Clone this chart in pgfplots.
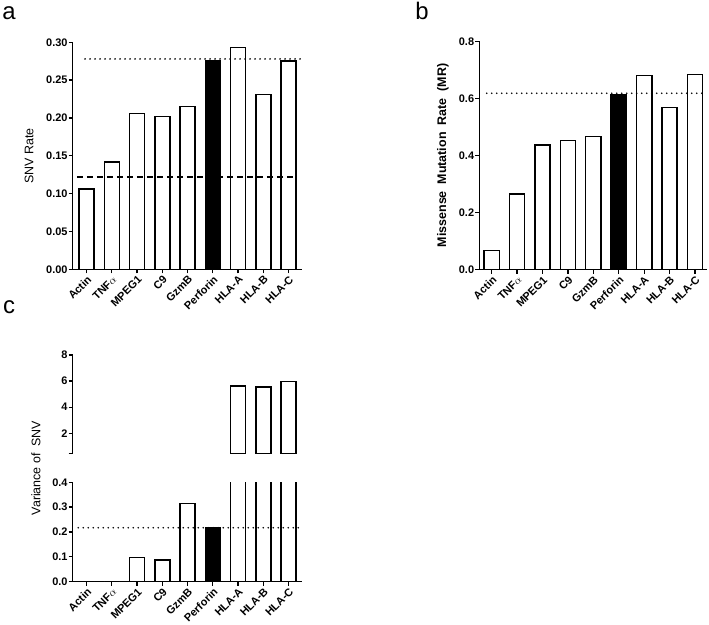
\documentclass[border=0pt]{standalone}
\usepackage{pgfplots}
\pgfplotsset{compat=1.18}
\usepackage{fontspec}
\setmainfont{Liberation Sans}
\pgfplotsset{
  mybase/.style={
    scale only axis,
    anchor=south west,
    axis line style={line width=1.5bp},
    tick style={black, line width=1.3bp},
    major tick length=4bp,
    tick align=outside,
    every tick label/.append style={font=\bfseries\fontsize{11}{12}\selectfont},
    yticklabel style={inner sep=1bp},
    /pgf/number format/assume math mode=true,
    xtick={0,...,8},
    xticklabels={Actin, TNF$\alpha$, MPEG1, C9, GzmB, Perforin, HLA-A, HLA-B, HLA-C},
    x tick label style={rotate=45, anchor=north east, inner sep=1bp, font=\bfseries\fontsize{11}{12}\selectfont},
    ytick pos=left, xtick pos=bottom,
  },
  wbar/.style={ybar, bar shift=0pt, bar width=0.6, fill=white, draw=black, line width=1.5bp},
  bbar/.style={ybar, bar shift=0pt, bar width=0.6, fill=black, draw=black, line width=1.5bp},
  dotl/.style={black, line width=1.8bp, line cap=round, dash pattern=on 0bp off 5bp},
  dashl/.style={black, line width=1.6bp, dash pattern=on 6bp off 4bp},
}
\begin{document}
\begin{tikzpicture}
\useasboundingbox (0bp,0bp) rectangle (709bp,625bp);
% panel letters
\node[anchor=center, font=\fontsize{24}{26}\selectfont] at (9bp,612bp) {a};
\node[anchor=center, font=\fontsize{24}{26}\selectfont] at (422bp,614bp) {b};
\node[anchor=center, font=\fontsize{24}{26}\selectfont] at (9bp,318bp) {c};

% ---------------- panel a
\begin{axis}[mybase, at={(72.7bp,355.7bp)}, width=229bp, height=227bp,
  axis lines*=left,
  xmin=-0.55, xmax=8.52, ymin=0, ymax=0.30,
  ytick={0,0.05,...,0.31},
  yticklabel style={/pgf/number format/.cd, fixed, fixed zerofill, precision=2},
  ylabel={SNV Rate},
  ylabel style={at={(axis description cs:-0.19,0.5)}, anchor=center, font=\fontsize{12.5}{14}\selectfont},
]
\addplot[wbar] coordinates {(0,0.106) (1,0.142) (2,0.206) (3,0.202) (4,0.215) (6,0.293) (7,0.231) (8,0.275)};
\addplot[bbar] coordinates {(5,0.276)};
\addplot[dotl] coordinates {(-0.06,0.278) (8.52,0.278)};
\addplot[dashl] coordinates {(-0.38,0.122) (8.3,0.122)};
\end{axis}

% ---------------- panel b
\begin{axis}[mybase, at={(479.3bp,355.3bp)}, width=227.4bp, height=228.4bp,
  axis lines*=left,
  xmin=-0.485, xmax=8.46, ymin=0, ymax=0.8,
  ytick={0,0.2,...,0.81},
  yticklabel style={/pgf/number format/.cd, fixed, fixed zerofill, precision=1},
  ylabel={Missense\ \ Mutation\ \ Rate\ \ (MR)},
  ylabel style={at={(axis description cs:-0.16,0.5)}, anchor=center, font=\bfseries\fontsize{12.5}{14}\selectfont},
]
\addplot[wbar] coordinates {(0,0.067) (1,0.265) (2,0.436) (3,0.453) (4,0.466) (6,0.681) (7,0.568) (8,0.683)};
\addplot[bbar] coordinates {(5,0.613)};
\addplot[dotl] coordinates {(-0.19,0.618) (8.46,0.618)};
\end{axis}

% ---------------- panel c upper
\begin{axis}[mybase, at={(72.7bp,171.7bp)}, width=229bp, height=98.3bp,
  axis y line*=left, axis x line=none,
  xmin=-0.55, xmax=8.52, ymin=0.47, ymax=8,
  ytick={2,4,6,8},
  extra y ticks={0.47}, extra y tick labels={},
]
\addplot[wbar] coordinates {(6,5.63) (7,5.53) (8,5.98)};
\end{axis}

% ---------------- panel c lower
\begin{axis}[mybase, at={(72.7bp,43.3bp)}, width=229bp, height=99.4bp,
  axis lines*=left,
  xmin=-0.55, xmax=8.52, ymin=0, ymax=0.4,
  ytick={0,0.1,...,0.41},
  yticklabel style={/pgf/number format/.cd, fixed, fixed zerofill, precision=1},
]
\addplot[wbar] coordinates {(0,0) (1,0) (2,0.097) (3,0.087) (4,0.315) (6,5.63) (7,5.53) (8,5.98)};
\addplot[bbar] coordinates {(5,0.217)};
\addplot[dotl] coordinates {(-0.33,0.217) (8.5,0.217)};
\end{axis}
\node[rotate=90, anchor=center, font=\fontsize{12.5}{14}\selectfont] at (36bp,157bp) {Variance of\ \ SNV};
\end{tikzpicture}
\end{document}
